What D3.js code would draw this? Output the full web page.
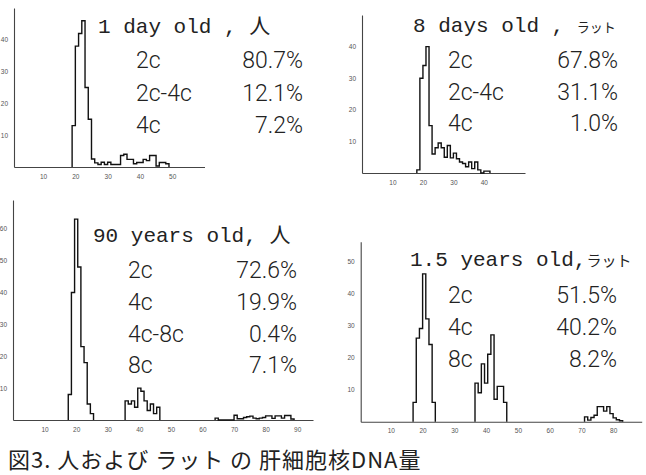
<!DOCTYPE html>
<html><head><meta charset="utf-8">
<script src="https://cdn.jsdelivr.net/npm/d3@7"></script>
<style>
html,body{margin:0;padding:0;background:#fff;}
svg{display:block;}
.tick text{font-family:"Liberation Sans",Arial,sans-serif;font-size:6.5px;fill:#555;}
.title{font-family:"Liberation Mono","Courier New",monospace;font-size:21px;fill:#222;}
.stat{font-family:Roboto,"Liberation Sans",sans-serif;font-weight:300;font-size:23px;fill:#222;}
.kana{font-family:"Noto Sans CJK JP",sans-serif;}
.caption{font-family:"Noto Sans CJK JP",sans-serif;font-size:22px;fill:#222;letter-spacing:1px;}
</style></head><body>
<svg id="chart" width="646" height="475"></svg>
<script>
// ---------------- data ----------------
// Panel 1 : 1 day old, human
const day1Title = "1 day old , ";
const day1Species = "人";
const day1Labels = ["2c", "2c-4c", "4c"];
const day1Values = ["80.7%", "12.1%", "7.2%"];
const day1Start = 19;
const day1Counts = [13, 38, 42, 46, 25, 15, 2.5, 1.3, 0.8, 1.5, 0.8, 1.5, 0.8, 0.8, 0.8,
                    3.6, 4, 2.4, 2.4, 1, 1.4, 1.4, 2.4, 2, 3.6, 3.6, 0.3, 1.4, 1.4, 1];
const day1XTicks = [10, 20, 30, 40, 50];
const day1YTicks = [10, 20, 30, 40];

// Panel 2 : 8 days old, rat
const days8Title = "8 days old , ";
const days8Species = "ラット";
const days8Labels = ["2c", "2c-4c", "4c"];
const days8Values = ["67.8%", "31.1%", "1.0%"];
const days8Start = 18;
const days8Counts = [1, 30, 34, 40, 15, 6, 8, 9.5, 8, 5, 8.7, 4.8, 6.3, 4.5, 3.5, 3, 2,
                     3.5, 1.4, 3.5, 1, 0, 0.6, 0.6];
const days8XTicks = [10, 20, 30, 40];
const days8YTicks = [10, 20, 30, 40];

// Panel 3 : 90 years old, human
const years90Title = "90 years old, ";
const years90Species = "人";
const years90Labels = ["2c", "4c", "4c-8c", "8c"];
const years90Values = ["72.6%", "19.9%", "0.4%", "7.1%"];
const years90StartA = 17.5;
const years90CountsA = [8, 40, 63, 48, 23, 18, 5, 2];
const years90StartB = 35.5;
const years90CountsB = [6, 5, 6, 4, 10, 9, 6, 3, 5, 2, 4];
const years90StartC = 64;
const years90CountsC = [0.6, 0, 0, 0, 0, 0, 1.5, 0.4, 0.4, 0.8, 1, 1.2, 0.6, 0.4, 0.6, 0.8,
                        1.3, 1.3, 0.5, 1.3, 1.3, 0.6, 1.4, 1.4, 0.3];
const years90XTicks = [10, 20, 30, 40, 50, 60, 70, 80, 90];
const years90YTicks = [10, 20, 30, 40, 50, 60];

// Panel 4 : 1.5 years old, rat
const years15Title = "1.5 years old,";
const years15Species = "ラット";
const years15Labels = ["2c", "4c", "8c"];
const years15Values = ["51.5%", "40.2%", "8.2%"];
const years15StartA = 17;
const years15CountsA = [6, 26, 29, 46, 32, 24, 6];
const years15StartB = 36.5;
const years15CountsB = [12, 9, 18, 12, 21, 27, 7, 11, 11, 6];
const years15StartC = 71;
const years15CountsC = [1.5, 0.5, 1.3, 2, 4.7, 4.7, 3.3, 4.7, 2.5, 1.2, 0.6, 0.3];
const years15XTicks = [10, 20, 30, 40, 50, 60, 70, 80];
const years15YTicks = [10, 20, 30, 40, 50];

const captionText = "図3. 人および ラット の 肝細胞核DNA量";

// ---------------- layout ----------------
const panels = [
  {title: day1Title, species: day1Species, kanaSize: 21, labels: day1Labels, values: day1Values,
   clusters: [[day1Start, day1Counts]], xt: day1XTicks, yt: day1YTicks,
   xd: [1, 60], xr: [14, 204.5], yd: [0, 50], yr: [167, 8],
   tx: 98, ty: 33, lx: 136, vx: 303, rows: [68, 101, 133]},
  {title: days8Title, species: days8Species, kanaSize: 13, labels: days8Labels, values: days8Values,
   clusters: [[days8Start, days8Counts]], xt: days8XTicks, yt: days8YTicks,
   xd: [0, 53.5], xr: [362, 525], yd: [0, 50], yr: [173, 15],
   tx: 413, ty: 32, lx: 448, vx: 618, rows: [68, 100, 131]},
  {title: years90Title, species: years90Species, kanaSize: 21, labels: years90Labels, values: years90Values,
   clusters: [[years90StartA, years90CountsA], [years90StartB, years90CountsB], [years90StartC, years90CountsC]],
   xt: years90XTicks, yt: years90YTicks,
   xd: [0, 95], xr: [13, 313], yd: [0, 69], yr: [420, 200],
   tx: 93, ty: 242, lx: 128, vx: 297, rows: [278, 310, 342, 373]},
  {title: years15Title, species: years15Species, kanaSize: 15, labels: years15Labels, values: years15Values,
   clusters: [[years15StartA, years15CountsA], [years15StartB, years15CountsB], [years15StartC, years15CountsC]],
   xt: years15XTicks, yt: years15YTicks,
   xd: [0.5, 89], xr: [360.7, 641.7], yd: [0, 56], yr: [421.7, 241.7],
   tx: 410, ty: 266, lx: 448, vx: 617, rows: [303, 335, 367]}
];

const svg = d3.select("#chart");

panels.forEach(p => {
  const x = d3.scaleLinear().domain(p.xd).range(p.xr);
  const y = d3.scaleLinear().domain(p.yd).range(p.yr);
  const g = svg.append("g");

  // axes
  const xa = g.append("g").attr("transform", `translate(0,${p.yr[0]})`)
    .call(d3.axisBottom(x).tickValues(p.xt).tickSize(0).tickSizeOuter(0).tickPadding(7));
  const ya = g.append("g").attr("transform", `translate(${p.xr[0]},0)`)
    .call(d3.axisLeft(y).tickValues(p.yt).tickSize(0).tickSizeOuter(0).tickPadding(6));
  [xa, ya].forEach(a => a.select(".domain").attr("stroke", "#444").attr("stroke-width", 1.1));

  // histogram outlines
  const line = d3.line().x(d => x(d[0])).y(d => y(d[1])).curve(d3.curveStepAfter);
  p.clusters.forEach(([start, counts]) => {
    const pts = [[start, 0]];
    counts.forEach((c, i) => pts.push([start + i, c]));
    pts.push([start + counts.length, 0]);
    g.append("path").attr("d", line(pts)).attr("fill", "none")
      .attr("stroke", "#111").attr("stroke-width", 1.4);
  });

  // title
  const t = g.append("text").attr("class", "title").attr("x", p.tx).attr("y", p.ty)
    .attr("xml:space", "preserve").style("white-space", "pre");
  t.append("tspan").text(p.title);
  t.append("tspan").attr("class", "kana").style("font-size", p.kanaSize + "px").text(p.species);

  // stats
  p.labels.forEach((lab, i) => {
    g.append("text").attr("class", "stat").attr("x", p.lx).attr("y", p.rows[i]).text(lab);
    g.append("text").attr("class", "stat").attr("x", p.vx).attr("y", p.rows[i])
      .attr("text-anchor", "end").text(p.values[i]);
  });
});

svg.append("text").attr("class", "caption").attr("x", 8).attr("y", 468).text(captionText);
</script>
</body></html>
